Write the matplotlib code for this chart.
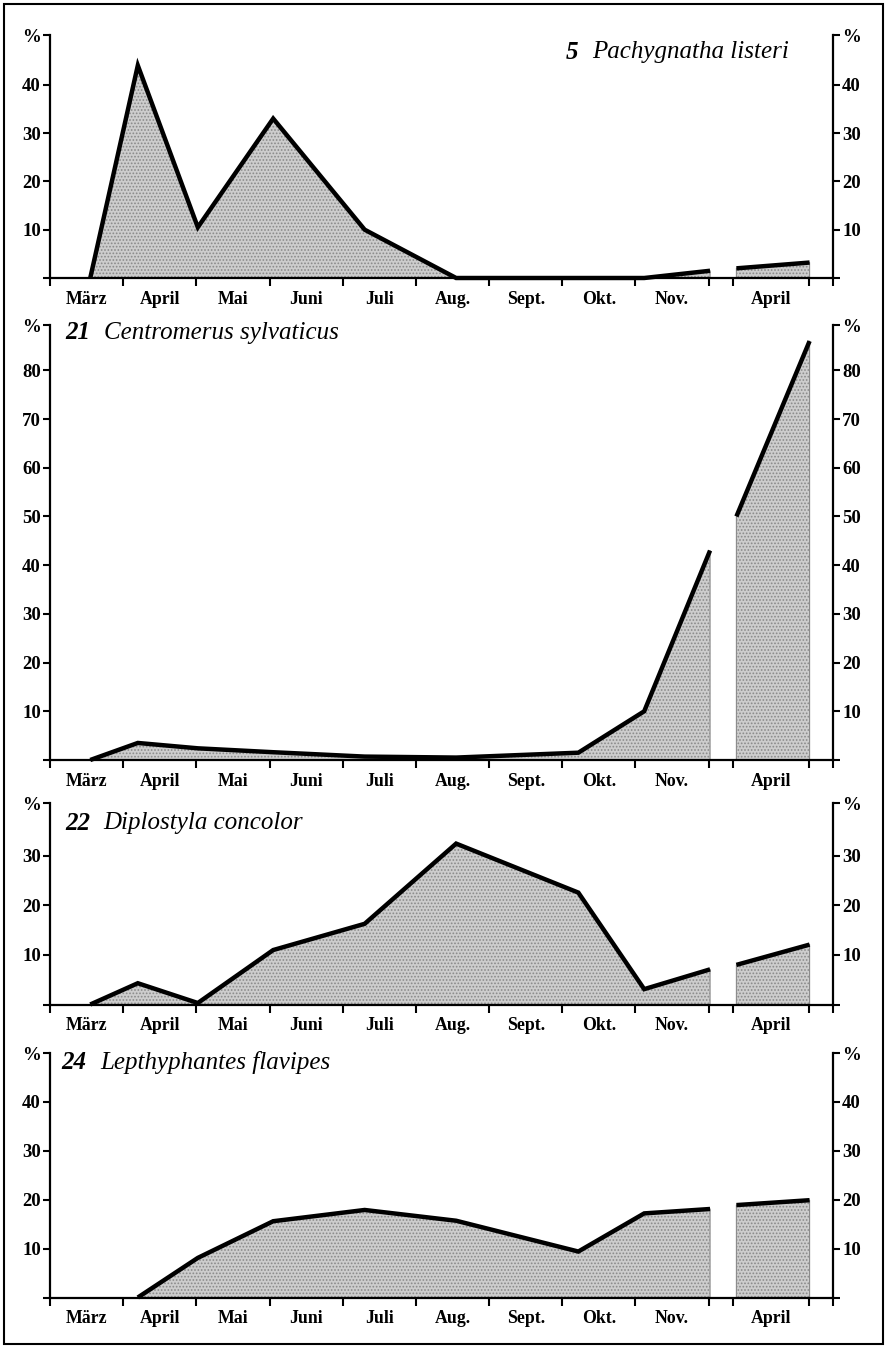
import numpy as np
import matplotlib
matplotlib.use('Agg')
import matplotlib.pyplot as plt
from matplotlib.patches import Rectangle

plt.rcParams['font.family'] = ['Liberation Serif', 'DejaVu Serif']
plt.rcParams['hatch.color'] = '#8a8a8a'
plt.rcParams['hatch.linewidth'] = 0.8

# ---------------- data ----------------
months = ['März', 'April', 'Mai', 'Juni', 'Juli', 'Aug.', 'Sept.', 'Okt.', 'Nov.']
month_starts = [0, 1, 2, 3, 4, 5, 6, 7, 8, 9]
spring_label = 'April'
spring_bounds = [9.34, 10.37]
x_end = 10.7

# sampling dates (month units from 1 March)
x_season = [0.55, 1.2, 2.02, 3.05, 4.3, 5.55, 7.22, 8.12, 9.02]
x_spring = [9.38, 10.38]

titles_num = ['5', '21', '22', '24']
titles_name = ['Pachygnatha listeri', 'Centromerus sylvaticus',
               'Diplostyla concolor', 'Lepthyphantes flavipes']

p5_season = [0, 44, 10.5, 33, 10, 0, 0, 0, 1.5]
p5_spring = [2.0, 3.2]
p21_season = [0, 3.5, 2.4, 1.6, 0.7, 0.5, 1.5, 10, 43]
p21_spring = [50, 86]
p22_season = [0, 4.3, 0.3, 11, 16.3, 32.5, 22.6, 3.1, 7.1]
p22_spring = [8, 12.1]
p24_season = [np.nan, 0, 8.1, 15.6, 17.9, 15.7, 9.4, 17.2, 18.1]
p24_spring = [18.9, 19.9]

y_tops = [50.3, 89.3, 40.7, 50.0]
p5_yticks = [10, 20, 30, 40]
p21_yticks = [10, 20, 30, 40, 50, 60, 70, 80]
p22_yticks = [10, 20, 30]
p24_yticks = [10, 20, 30, 40]

# ---------------- layout ----------------
W, H = 886, 1347
fig = plt.figure(figsize=(W / 100, H / 100), dpi=100)
fig.patch.set_facecolor('white')

panel_px = [(35, 278), (325, 760), (803, 1004.5), (1053, 1297.5)]
left_px, right_px = 50, 833

season_vals = [p5_season, p21_season, p22_season, p24_season]
spring_vals = [p5_spring, p21_spring, p22_spring, p24_spring]
yticks_all = [p5_yticks, p21_yticks, p22_yticks, p24_yticks]

title_pos = [(0.944, 0.93, 'right'), (0.019, 0.982, 'left'),
             (0.019, 0.90, 'left'), (0.014, 0.963, 'left')]

fill_kw = dict(facecolor='#cdcdcd', edgecolor='#8a8a8a', hatch='.....',
               linewidth=0.8, zorder=1)
line_kw = dict(color='black', linewidth=3.2, solid_joinstyle='miter',
               solid_capstyle='butt', zorder=3, clip_on=False)

for i in range(4):
    top, bot = panel_px[i]
    ax = fig.add_axes([left_px / W, 1 - bot / H, (right_px - left_px) / W, (bot - top) / H])
    ax.set_facecolor('none')
    ytop = y_tops[i]
    ax.set_xlim(0, x_end)
    ax.set_ylim(0, ytop)

    for s in ['left', 'right', 'bottom']:
        ax.spines[s].set_linewidth(1.6)
    ax.spines['top'].set_visible(False)

    # x ticks
    major = month_starts + spring_bounds + [x_end]
    ax.set_xticks(major)
    ax.set_xticklabels([''] * len(major))
    mids = [m + 0.5 for m in month_starts[:-1]] + [np.mean(spring_bounds)]
    ax.set_xticks(mids, minor=True)
    ax.set_xticklabels(months + [spring_label], minor=True,
                       fontsize=12.8, fontweight='bold')
    ax.tick_params(axis='x', which='major', direction='out', length=6, width=1.5)
    ax.tick_params(axis='x', which='minor', length=0, pad=9)

    # y ticks
    yv = yticks_all[i]
    yt = [0] + yv + [ytop]
    ylab = [''] + [str(v) for v in yv] + ['%']
    ax.set_yticks(yt)
    ax.set_yticklabels(ylab, fontsize=13.5, fontweight='bold')
    ax.yaxis.set_ticks_position('both')
    ax.tick_params(axis='y', direction='out', length=5, width=1.5, pad=1.5,
                   labelleft=True, labelright=True)

    # data
    sv = np.array(season_vals[i], dtype=float)
    xs = np.array(x_season)
    ok = ~np.isnan(sv)
    ax.fill_between(xs[ok], 0, sv[ok], **fill_kw)
    ax.plot(xs[ok], sv[ok], **line_kw)
    ax.fill_between(x_spring, 0, spring_vals[i], **fill_kw)
    ax.plot(x_spring, spring_vals[i], **line_kw)

    # title
    tx, ty, align = title_pos[i]
    if align == 'left':
        t_num = ax.text(tx, ty, titles_num[i], transform=ax.transAxes,
                        fontsize=18, fontweight='bold', fontstyle='italic',
                        ha='left', va='center')
        ax.annotate(titles_name[i], xy=(1, 0.5), xycoords=t_num,
                    xytext=(10, 0), textcoords='offset points',
                    fontsize=18, fontstyle='italic', ha='left', va='center')
    else:
        t_name = ax.text(tx, ty, titles_name[i], transform=ax.transAxes,
                         fontsize=18, fontstyle='italic', ha='right', va='center')
        ax.annotate(titles_num[i], xy=(0, 0.5), xycoords=t_name,
                    xytext=(-10, 0), textcoords='offset points',
                    fontsize=18, fontweight='bold', fontstyle='italic',
                    ha='right', va='center')

fig.add_artist(Rectangle((4 / W, 3 / H), 879 / W, 1340 / H, transform=fig.transFigure,
                         fill=False, linewidth=1.5, edgecolor='black'))

fig.savefig('out.png', dpi=100)
